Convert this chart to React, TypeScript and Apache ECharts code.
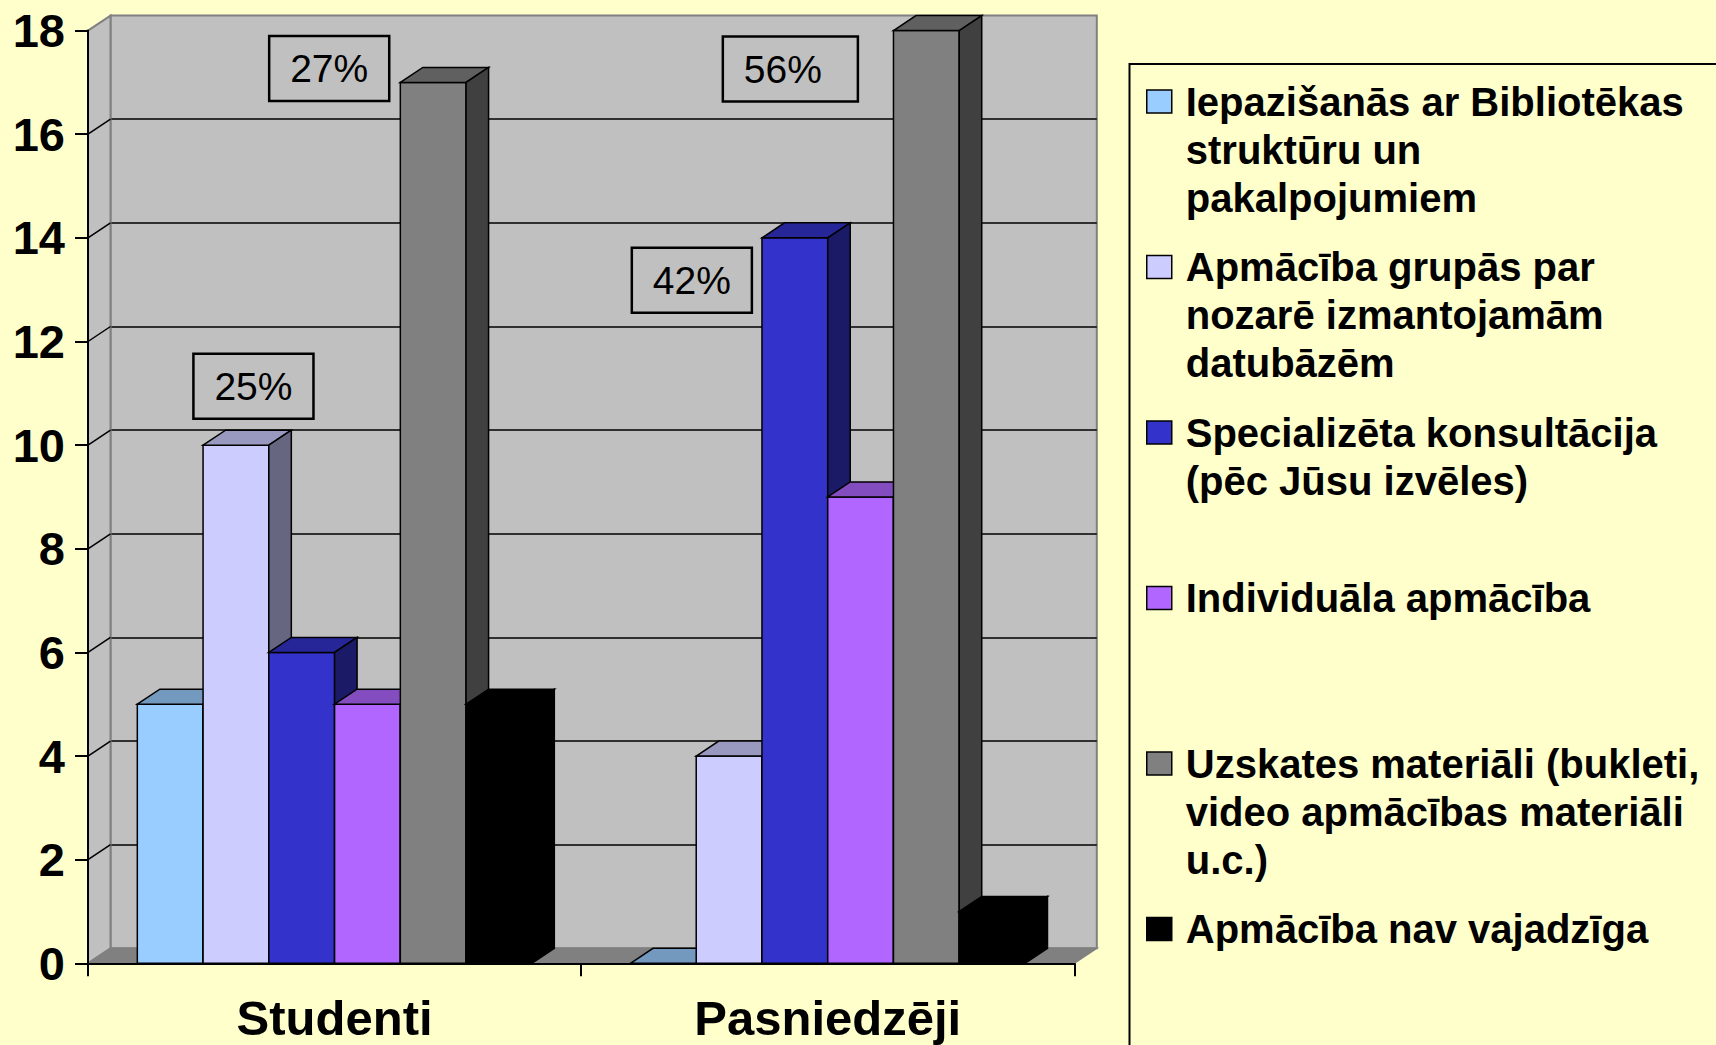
import React, { useEffect, useRef } from "react";
import * as echarts from "echarts";

// ---------- data ----------
const CATEGORIES = ["Studenti", "Pasniedzēji"];

const LEGEND_LINES: string[][] = [
  ["Iepazišanās ar Bibliotēkas", "struktūru un", "pakalpojumiem"],
  ["Apmācība grupās par", "nozarē izmantojamām", "datubāzēm"],
  ["Specializēta konsultācija", "(pēc Jūsu izvēles)"],
  ["Individuāla apmācība"],
  ["Uzskates materiāli (bukleti,", "video apmācības materiāli", "u.c.)"],
  ["Apmācība nav vajadzīga"],
];
const SERIES_NAMES = LEGEND_LINES.map((l) => l.join(" "));

// values per series: [Studenti, Pasniedzēji]
const VALUES_IEPAZISANAS = [5, 0];
const VALUES_GRUPAS = [10, 4];
const VALUES_SPECIALIZETA = [6, 14];
const VALUES_INDIVIDUALA = [5, 9];
const VALUES_UZSKATES = [17, 18];
const VALUES_NAV = [5, 1];
const SERIES_VALUES = [
  VALUES_IEPAZISANAS,
  VALUES_GRUPAS,
  VALUES_SPECIALIZETA,
  VALUES_INDIVIDUALA,
  VALUES_UZSKATES,
  VALUES_NAV,
];

// percentage call-outs per series: [Studenti, Pasniedzēji]
const PERCENT_LABELS = [
  ["", ""],
  ["25%", ""],
  ["", "42%"],
  ["", ""],
  ["27%", "56%"],
  ["", ""],
];

const Y_MIN = 0;
const Y_MAX = 18;
const Y_INTERVAL = 2;

// ---------- style ----------
const COLORS = ["#99CCFF", "#CCCCFF", "#3333CC", "#B066FF", "#808080", "#000000"];
const FONT = "'Liberation Sans', Arial, Helvetica, sans-serif";
const BG = "#FFFFCC";
const DX = 22.5; // 3D depth offset (px)
const DY = 15;
const GAP = 0.1; // fraction of category width left empty on each side

// call-out box placement relative to the bar's top-front centre (px)
const LABEL_PLACE: Record<string, { dx: number; dy: number; padding: number[] }> = {
  "1-0": { dx: 17.5, dy: -59, padding: [13, 21, 13, 21] },
  "4-0": { dx: -104, dy: -14, padding: [13, 21, 13, 21] },
  "2-1": { dx: -103, dy: 42.5, padding: [13, 21, 13, 21] },
  "4-1": { dx: -136, dy: 38.5, padding: [13, 36, 13, 21] },
};

const LEGEND_ICON_Y = [101.5, 267, 432.5, 598, 763.5, 929];
const LEGEND_LINE_H = 48;

function shade(hex: string, f: number): string {
  const n = parseInt(hex.slice(1), 16);
  const r = Math.round(((n >> 16) & 255) * f);
  const g = Math.round(((n >> 8) & 255) * f);
  const b = Math.round((n & 255) * f);
  return `rgb(${r},${g},${b})`;
}

function makeBarRender(si: number) {
  return (params: any, api: any) => {
    const cat = api.value(0);
    const val = api.value(1);
    const catW = api.size([1, 0])[0];
    const base = api.coord([cat, Y_MIN]);
    const topP = api.coord([cat, val]);
    const used = catW * (1 - 2 * GAP);
    const bw = used / SERIES_VALUES.length;
    const xL = base[0] - used / 2 + si * bw;
    const xR = xL + bw;
    const y0 = base[1];
    const yv = topP[1];
    const c = COLORS[si];
    const stroke = { stroke: "#000", lineWidth: 1.5, lineJoin: "miter" };
    const children: any[] = [
      {
        type: "rect",
        shape: { x: xL, y: yv, width: bw, height: y0 - yv },
        style: { fill: c, ...stroke },
      },
      {
        type: "polygon",
        shape: { points: [[xL, yv], [xL + DX, yv - DY], [xR + DX, yv - DY], [xR, yv]] },
        style: { fill: shade(c, 0.75), ...stroke },
      },
      {
        type: "polygon",
        shape: { points: [[xR, yv], [xR + DX, yv - DY], [xR + DX, y0 - DY], [xR, y0]] },
        style: { fill: shade(c, 0.5), ...stroke },
      },
    ];
    const txt = PERCENT_LABELS[si][cat];
    if (txt) {
      const place = LABEL_PLACE[`${si}-${cat}`];
      children.push({
        type: "text",
        x: (xL + xR) / 2 + place.dx,
        y: yv + place.dy,
        z2: 50,
        style: {
          text: txt,
          fontFamily: FONT,
          fontSize: 39,
          lineHeight: 39,
          fill: "#000",
          align: "center",
          verticalAlign: "middle",
          borderColor: "#000",
          borderWidth: 2.5,
          padding: place.padding,
        },
      });
    }
    return { type: "group", children };
  };
}

function wallRender(params: any, api: any) {
  const catW = api.size([1, 0])[0];
  const p0 = api.coord([0, Y_MIN]);
  const xL = p0[0] - catW / 2;
  const xR = xL + catW * CATEGORIES.length;
  const y0 = p0[1];
  const yT = api.coord([0, Y_MAX])[1];
  const children: any[] = [];
  children.push({
    type: "polygon",
    shape: { points: [[xL, y0], [xL, yT], [xL + DX, yT - DY], [xL + DX, y0 - DY]] },
    style: { fill: "#C0C0C0", stroke: "#808080", lineWidth: 2 },
  });
  for (let v = Y_MIN + Y_INTERVAL; v < Y_MAX; v += Y_INTERVAL) {
    const y = api.coord([0, v])[1];
    children.push({
      type: "line",
      shape: { x1: xL, y1: y, x2: xL + DX, y2: y - DY },
      style: { stroke: "#000", lineWidth: 1.5 },
    });
  }
  children.push({
    type: "polygon",
    shape: { points: [[xL, y0], [xR, y0], [xR + DX, y0 - DY], [xL + DX, y0 - DY]] },
    style: { fill: "#808080", stroke: "#808080", lineWidth: 1.5 },
  });
  return { type: "group", children };
}

const GRID = { left: 88, top: 30.6, width: 986.3, height: 932.7 };

function buildOption(): any {
  const barSeries = SERIES_VALUES.map((vals, si) => ({
    type: "custom",
    name: SERIES_NAMES[si],
    xAxisIndex: 0,
    yAxisIndex: 0,
    z: 3,
    clip: false,
    itemStyle: { color: COLORS[si] },
    renderItem: makeBarRender(si),
    encode: { x: 0, y: 1 },
    data: vals.map((v, ci) => [ci, v]),
  }));

  // The legend centres each text block on its icon; blank lines above the
  // text (as many as there are continuation lines) keep the first line level
  // with the icon, as in the reference.
  const legends = LEGEND_LINES.map((lines, i) => {
    const extra = lines.length - 1;
    const padLines = new Array(extra).fill("");
    return {
      data: [SERIES_NAMES[i]],
      orient: "vertical",
      left: 1146,
      top: LEGEND_ICON_Y[i] - (extra * LEGEND_LINE_H + LEGEND_LINE_H / 2),
      padding: 0,
      itemGap: 0,
      itemWidth: 25,
      itemHeight: 23,
      icon: "rect",
      selectedMode: false,
      itemStyle: { borderColor: "#000", borderWidth: 1.5 },
      formatter: () => [...padLines, ...lines].join("\n"),
      textStyle: {
        fontFamily: FONT,
        fontSize: 40,
        fontWeight: "bold",
        color: "#000",
        lineHeight: LEGEND_LINE_H,
        padding: [0, 0, 0, 9],
      },
    };
  });

  return {
    animation: false,
    backgroundColor: BG,
    textStyle: { fontFamily: FONT },
    grid: [
      { ...GRID, show: false },
      {
        left: GRID.left + DX,
        top: GRID.top - DY,
        width: GRID.width,
        height: GRID.height,
        show: true,
        backgroundColor: "#C0C0C0",
        borderColor: "#808080",
        borderWidth: 2,
      },
    ],
    xAxis: [
      {
        type: "category",
        gridIndex: 0,
        data: CATEGORIES,
        z: 10,
        axisLine: { show: true, lineStyle: { color: "#000", width: 2 } },
        axisTick: { show: true, length: 13, lineStyle: { color: "#000", width: 2 } },
        axisLabel: {
          margin: 30,
          fontSize: 49,
          fontWeight: "bold",
          color: "#000",
          fontFamily: FONT,
        },
        splitLine: { show: false },
      },
      {
        type: "category",
        gridIndex: 1,
        data: CATEGORIES,
        axisLine: { show: false },
        axisTick: { show: false },
        axisLabel: { show: false },
        splitLine: { show: false },
      },
    ],
    yAxis: [
      {
        type: "value",
        gridIndex: 0,
        min: Y_MIN,
        max: Y_MAX,
        interval: Y_INTERVAL,
        z: 10,
        axisLine: { show: true, lineStyle: { color: "#000", width: 2 } },
        axisTick: { show: true, length: 13, lineStyle: { color: "#000", width: 2 } },
        axisLabel: {
          margin: 23,
          fontSize: 47,
          fontWeight: "bold",
          color: "#000",
          fontFamily: FONT,
        },
        splitLine: { show: false },
      },
      {
        type: "value",
        gridIndex: 1,
        min: Y_MIN,
        max: Y_MAX,
        interval: Y_INTERVAL,
        axisLine: { show: false },
        axisTick: { show: false },
        axisLabel: { show: false },
        splitLine: {
          show: true,
          showMinLine: false,
          showMaxLine: false,
          lineStyle: { color: "#000", width: 1.5 },
        },
      },
    ],
    legend: legends,
    graphic: [
      {
        type: "rect",
        z: 0,
        silent: true,
        shape: { x: 1129.5, y: 64, width: 800, height: 1200 },
        style: { fill: "none", stroke: "#000", lineWidth: 2 },
      },
    ],
    series: [
      {
        type: "custom",
        name: "walls",
        xAxisIndex: 0,
        yAxisIndex: 0,
        z: 1,
        silent: true,
        clip: false,
        renderItem: wallRender,
        encode: { x: 0, y: 1 },
        data: [[0, Y_MIN]],
      },
      ...barSeries,
    ],
  };
}

export default function App() {
  const ref = useRef<HTMLDivElement>(null);
  useEffect(() => {
    const chart = echarts.init(ref.current!, null, { renderer: "svg" });
    chart.setOption(buildOption());
    return () => chart.dispose();
  }, []);
  return (
    <div
      ref={ref}
      style={{
        position: "fixed",
        left: 0,
        top: 0,
        width: 1716,
        height: 1045,
        background: BG,
      }}
    />
  );
}
